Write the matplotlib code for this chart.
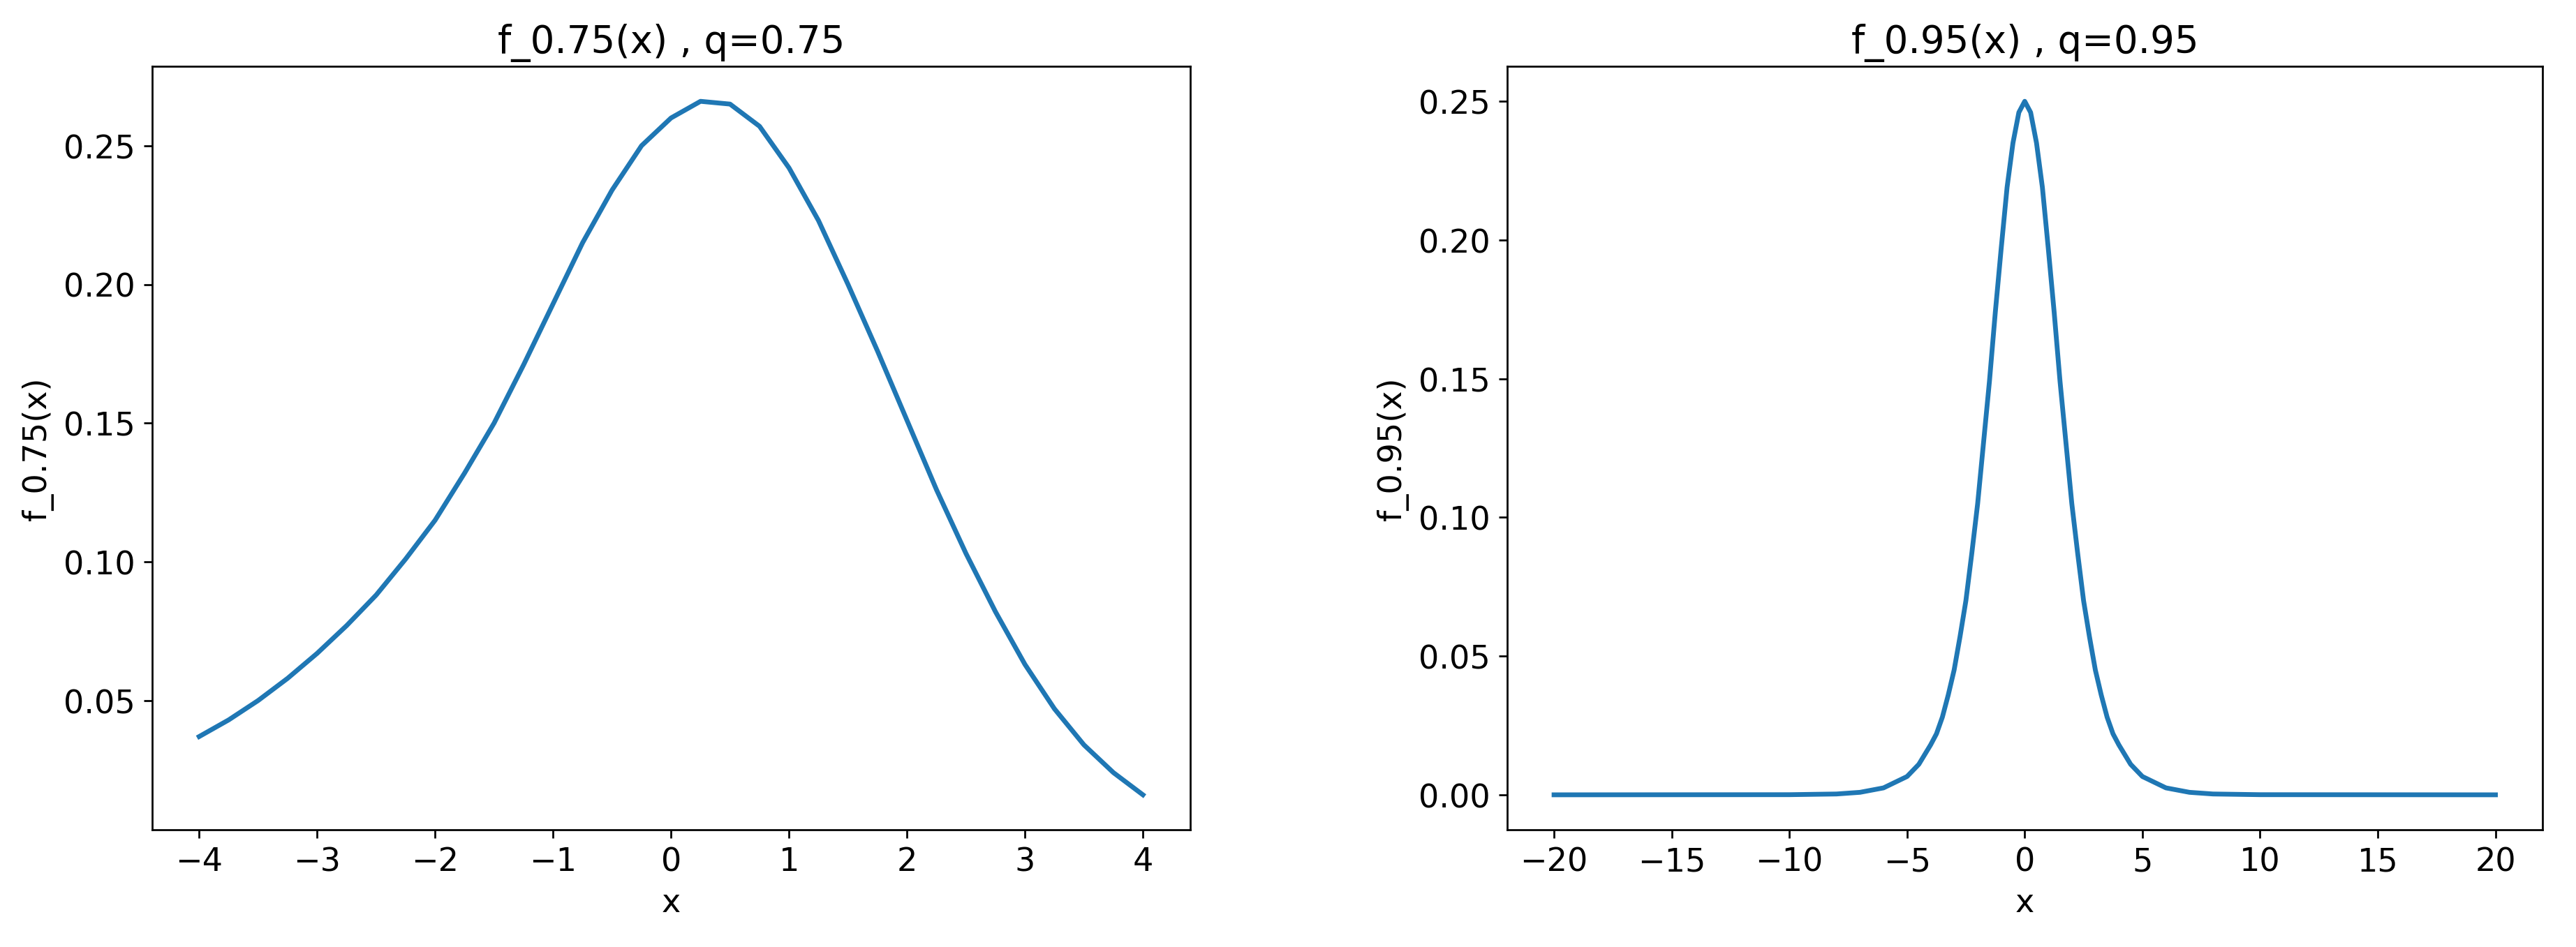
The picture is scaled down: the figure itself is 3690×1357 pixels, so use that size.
import matplotlib
matplotlib.use("Agg")
import matplotlib.pyplot as plt

# values
x_left = [-4, -3.75, -3.5, -3.25, -3, -2.75, -2.5, -2.25, -2, -1.75, -1.5, -1.25, -1,
          -0.75, -0.5, -0.25, 0, 0.25, 0.5, 0.75, 1, 1.25, 1.5, 1.75, 2, 2.25, 2.5,
          2.75, 3, 3.25, 3.5, 3.75, 4]
y_left = [0.037, 0.043, 0.050, 0.058, 0.067, 0.077, 0.088, 0.101, 0.115, 0.132, 0.150,
          0.171, 0.193, 0.215, 0.234, 0.250, 0.260, 0.266, 0.265, 0.257, 0.242, 0.223,
          0.200, 0.176, 0.151, 0.126, 0.103, 0.082, 0.063, 0.047, 0.034, 0.024, 0.016]

x_right = [-20, -10, -8, -7, -6, -5, -4.5, -4, -3.75, -3.5, -3.25, -3, -2.75, -2.5,
           -2.25, -2, -1.75, -1.5, -1.25, -1, -0.75, -0.5, -0.25, 0,
           0.25, 0.5, 0.75, 1, 1.25, 1.5, 1.75, 2, 2.25, 2.5, 2.75, 3, 3.25, 3.5,
           3.75, 4, 4.5, 5, 6, 7, 8, 10, 20]
y_right = [0.0, 0.00005, 0.0003, 0.0009, 0.0025, 0.0066, 0.011, 0.018, 0.022, 0.028,
           0.036, 0.045, 0.057, 0.070, 0.087, 0.105, 0.127, 0.149, 0.174, 0.197, 0.219,
           0.235, 0.246, 0.250,
           0.246, 0.235, 0.219, 0.197, 0.174, 0.149, 0.127, 0.105, 0.087, 0.070, 0.057,
           0.045, 0.036, 0.028, 0.022, 0.018, 0.011, 0.0066, 0.0025, 0.0009, 0.0003,
           0.00005, 0.0]

plt.rcParams['font.size'] = 13.5
fig = plt.figure(figsize=(15, 5.52), dpi=246)
ax1 = fig.add_axes([0.059, 0.124, 0.403, 0.805])
ax2 = fig.add_axes([0.585, 0.124, 0.402, 0.805])

ax1.plot(x_left, y_left, linewidth=2)
ax1.set_title("f_0.75(x) , q=0.75", fontsize=16)
ax1.set_xlabel("x")
ax1.set_ylabel("f_0.75(x)")

ax2.plot(x_right, y_right, linewidth=2)
ax2.set_title("f_0.95(x) , q=0.95", fontsize=16)
ax2.set_xlabel("x")
ax2.set_ylabel("f_0.95(x)")

fig.savefig("out.png")
